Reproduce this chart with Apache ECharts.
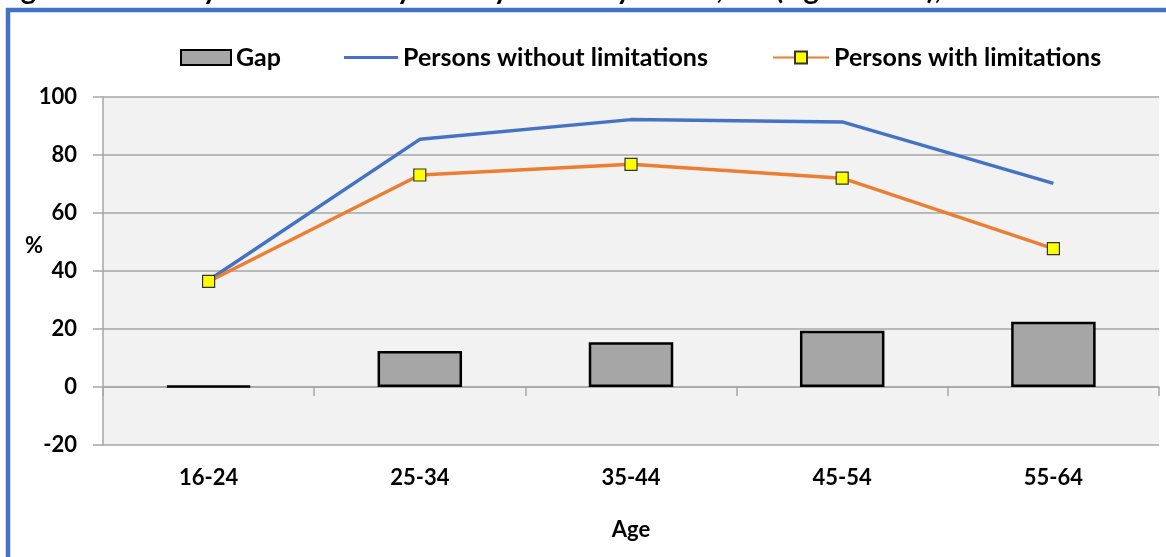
<!DOCTYPE html>
<html>
<head>
<meta charset="utf-8">
<script src="https://cdn.jsdelivr.net/npm/echarts@6/dist/echarts.min.js"></script>
<style>
  html, body { margin: 0; padding: 0; background: #ffffff; }
  #chart { width: 1166px; height: 557px; }
</style>
</head>
<body>
<div id="chart"></div>
<script>
const categories = ['16-24', '25-34', '35-44', '45-54', '55-64'];
const gapValues = [0.4, 12.4, 15.4, 19.4, 22.5];
const withoutLimitations = [36.8, 85.4, 92.2, 91.4, 70.2];
const withLimitations = [36.4, 73.1, 76.8, 72.0, 47.7];
const yTicks = { min: -20, max: 100, interval: 20 };
const titleText = 'Figure 60: Life cycle and activity rate by disability status, EU (Age: 16-64), 2018';

const FONT = 'Lato';
const chart = echarts.init(document.getElementById('chart'), null, { renderer: 'canvas' });

const legendText = { fontFamily: FONT, fontWeight: 'bold', fontSize: 25, color: '#000' };

chart.setOption({
  backgroundColor: '#ffffff',
  animation: false,
  graphic: [
    {
      type: 'text', left: -3, top: -25, z: 10,
      style: { text: titleText, fontFamily: FONT, fontWeight: 'bold', fontSize: 29, fill: '#000' }
    },
    {
      type: 'rect', z: -1, silent: true,
      shape: { x: 8, y: 10, width: 1300, height: 700 },
      style: { fill: '#ffffff', stroke: '#4472c4', lineWidth: 4.5 }
    },
    {
      type: 'text', left: 25, top: 235,
      style: { text: '%', fontFamily: FONT, fontWeight: 'bold', fontSize: 22, fill: '#000' }
    },
    {
      type: 'text', x: 631, y: 530,
      style: { text: 'Age', fontFamily: FONT, fontWeight: 'bold', fontSize: 22, fill: '#000',
               align: 'center', verticalAlign: 'middle' }
    }
  ],
  legend: [
    {
      data: ['Gap'], left: 175, top: 40, itemWidth: 50, itemHeight: 15, itemGap: 0,
      textStyle: legendText, icon: 'rect'
    },
    {
      data: ['Persons without limitations'], left: 339, top: 40, itemWidth: 54, itemHeight: 3,
      icon: 'rect', textStyle: legendText
    },
    {
      data: ['Persons with limitations'], left: 767, top: 40, itemWidth: 56, itemHeight: 15,
      textStyle: legendText
    }
  ],
  grid: {
    left: 103, right: 7, top: 97, bottom: 112,
    outerBoundsMode: 'none', containLabel: false,
    show: true, backgroundColor: '#f2f2f2', borderWidth: 0
  },
  xAxis: {
    type: 'category',
    data: categories,
    boundaryGap: true,
    axisLine: { onZero: true, lineStyle: { color: '#a6a6a6', width: 1.5 } },
    axisTick: { show: true, length: 9, lineStyle: { color: '#a6a6a6', width: 1.5 } },
    axisLabel: { margin: 22, fontFamily: FONT, fontWeight: 'bold', fontSize: 22, color: '#000' },
    splitLine: { show: false }
  },
  yAxis: {
    type: 'value',
    min: yTicks.min, max: yTicks.max, interval: yTicks.interval,
    axisLine: { show: true, lineStyle: { color: '#a6a6a6', width: 1.5 } },
    axisTick: { show: true, length: 10, lineStyle: { color: '#a6a6a6', width: 1.5 } },
    axisLabel: { margin: 26, fontFamily: FONT, fontWeight: 'bold', fontSize: 22, color: '#000' },
    splitLine: { show: true, lineStyle: { color: '#a6a6a6', width: 1.5 } }
  },
  series: [
    {
      name: 'Gap', type: 'bar', data: gapValues, barWidth: '40%',
      itemStyle: { color: '#a6a6a6', borderColor: '#000', borderWidth: 2.5 },
      z: 2
    },
    {
      name: 'Persons without limitations', type: 'line', data: withoutLimitations,
      symbol: 'none', lineStyle: { color: '#4472c4', width: 3.5 },
      itemStyle: { color: '#4472c4' }, z: 3
    },
    {
      name: 'Persons with limitations', type: 'line', data: withLimitations,
      symbol: 'rect', symbolSize: 12, showSymbol: true,
      lineStyle: { color: '#ed7d31', width: 3.5 },
      itemStyle: { color: '#ffff00', borderColor: '#333', borderWidth: 1.2 }, z: 4
    }
  ]
});
</script>
</body>
</html>
